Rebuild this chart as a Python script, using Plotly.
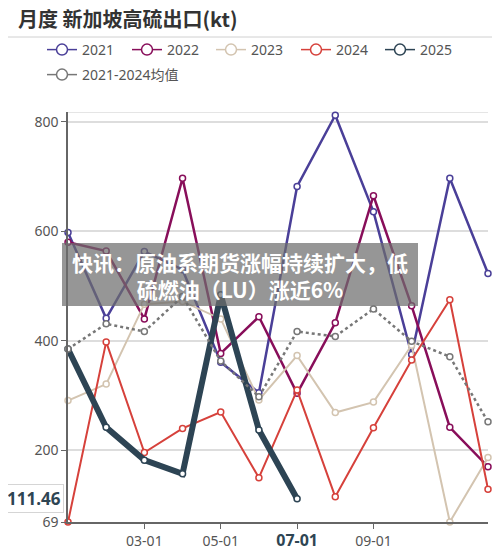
import plotly.graph_objects as go

months = list(range(1, 13))
tick_vals = [3, 5, 7, 9]
tick_text = ["03-01", "05-01", "<b><span style='color:#2e4553;font-size:16px'>07-01</span></b>", "09-01"]

y2021 = [598, 441, 563, 530, 361, 305, 682, 812, 636, 375, 697, 523]
y2022 = [580, 564, 440, 697, 377, 444, 304, 433, 665, 464, 242, 170]
y2023 = [291, 321, 467, 472, 440, 292, 373, 269, 288, 392, 69, 187]
y2024 = [69, 398, 196, 240, 270, 150, 310, 115, 241, 365, 475, 129]
y2025 = [385, 242, 182, 157, 484, 237, 111.46]
y_avg = [385, 431, 417, 481, 363, 298, 417, 408, 458, 399, 371, 252]

y_min, y_max = 69, 818
y_ticks = [69, 200, 400, 600, 800]
pointer_value = 111.46

series = [
    ("2021", y2021, "#4a3f98", 2.5, None),
    ("2022", y2022, "#880e5a", 2.5, None),
    ("2023", y2023, "#d3c4b0", 2, None),
    ("2024", y2024, "#d6413b", 2, None),
    ("2025", y2025, "#2d4454", 6, None),
    ("2021-2024均值", y_avg, "#777777", 2.5, "dot"),
]
# legend entry positions (px, relative to plot-area left / top)
legend_pos = [(-26, 62), (59, 62), (143, 62), (228, 62), (312, 62), (-26, 37)]

W, H = 492, 544
L, R, T, B = 60, 12, 104, 30
PW, PH = W - L - R, H - T - B

fig = go.Figure()
for i, (name, vals, color, w, dash) in enumerate(series):
    lg = "legend" if i == 0 else "legend%d" % (i + 1)
    fig.add_trace(go.Scatter(
        x=months[:len(vals)], y=vals, name=name, mode="lines+markers",
        line=dict(color=color, width=w, dash=dash),
        marker=dict(symbol="circle", size=6, color="white",
                    line=dict(color=color, width=1.5)),
        cliponaxis=False, showlegend=False,
    ))
    # thin legend-only entry
    fig.add_trace(go.Scatter(
        x=[None], y=[None], name=name, mode="lines+markers",
        line=dict(color=color, width=1.5, dash=None),
        marker=dict(symbol="circle", size=11, color="white",
                    line=dict(color=color, width=1.5)),
        legend=lg, showlegend=True, hoverinfo="skip",
    ))

font = "Noto Sans, Noto Sans CJK SC, sans-serif"

layout = dict(
    width=W, height=H,
    margin=dict(l=L, r=R, t=T, b=B),
    paper_bgcolor="white", plot_bgcolor="white",
    font=dict(family=font, size=14, color="#555"),
    title=dict(text="<b>月度 新加坡高硫出口(kt)</b>", x=10 / W, xanchor="left",
               y=1 - 12 / H, yanchor="middle",
               font=dict(size=20, color="#333", family="Noto Sans CJK SC")),
    xaxis=dict(range=[1, 12], tickvals=tick_vals, ticktext=tick_text,
               showgrid=False, zeroline=False, showline=True, linecolor="#666",
               linewidth=1.5, ticks="outside", ticklen=5, tickcolor="#666",
               tickfont=dict(size=14, color="#555"), automargin=False),
    yaxis=dict(range=[y_min, y_max], tickvals=y_ticks, showgrid=True,
               gridcolor="#dddddd", gridwidth=1.5, zeroline=False, showline=True,
               linecolor="#666", linewidth=1.5, ticks="outside", ticklen=5,
               tickcolor="#666", tickfont=dict(size=14, color="#555"),
               automargin=False),
)
for i, (dx, dy) in enumerate(legend_pos):
    key = "legend" if i == 0 else "legend%d" % (i + 1)
    layout[key] = dict(orientation="h", x=dx / PW, xanchor="left", y=1 + dy / PH,
                       yanchor="middle", itemwidth=30,
                       font=dict(size=14, color="#555"), bgcolor="rgba(0,0,0,0)")
fig.update_layout(**layout)

# divider under title and top grid line
fig.add_shape(type="line", xref="paper", yref="paper", x0=-60 / PW, x1=1 + 12 / PW,
              y0=1 + 75 / PH, y1=1 + 75 / PH, line=dict(color="#d0d0d0", width=1))
fig.add_shape(type="line", xref="paper", yref="y", x0=0, x1=1, y0=y_max, y1=y_max,
              line=dict(color="#dddddd", width=1.5), layer="below")

# axis pointer label
fig.add_annotation(xref="paper", yref="y", x=-34 / PW, y=pointer_value,
                   xanchor="center", text="<b>111.46</b>",
                   showarrow=False, font=dict(size=17, color="#2e4553"),
                   bgcolor="white", bordercolor="#d5d5d5", borderwidth=1, borderpad=2)

# news banner overlay
fig.add_shape(type="rect", xref="paper", yref="paper",
              x0=-6 / PW, x1=350 / PW, y0=(522 - 306) / PH, y1=(522 - 243) / PH,
              fillcolor="rgba(110,110,110,0.72)", line=dict(width=0), layer="above")
fig.add_annotation(xref="paper", yref="paper", x=172 / PW, y=(522 - 275) / PH,
                   xanchor="center", yanchor="middle",
                   text="<b>快讯：原油系期货涨幅持续扩大，低<br>硫燃油（LU）涨近6%</b>",
                   showarrow=False, align="center",
                   font=dict(size=21, color="white", family="Noto Sans CJK SC"))

fig.write_html("out.html")
